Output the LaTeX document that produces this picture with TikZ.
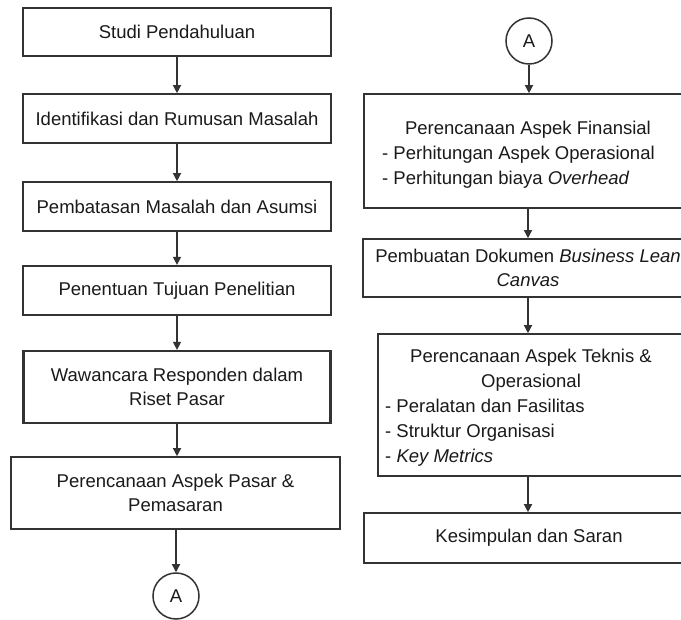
\documentclass[tikz,border=0pt]{standalone}
\usepackage{fontspec}
\setmainfont{Liberation Sans}
\usetikzlibrary{arrows.meta}
\definecolor{edge}{HTML}{333333}
\definecolor{ink}{HTML}{1A1A1A}
\begin{document}
\begin{tikzpicture}[x=1pt,y=-1pt,
  txt/.style={text=ink, inner sep=0pt, font=\fontsize{18.5}{24.5}\selectfont},
  box/.style={txt, draw=edge, line width=1.6pt, fill=white, rectangle, align=center},
  heavybox/.style={box, line width=2.2pt},
  conn/.style={txt, circle, draw=edge, line width=1.5pt, minimum size=46pt, fill=white},
  flow/.style={-{Triangle[length=8pt,width=8pt]}, line width=1.3pt, draw=edge}]
\useasboundingbox (0,0) rectangle (681,620);
\clip (0,0) rectangle (681,620);
\fill[white] (0,0) rectangle (681,620);

% left column
\node[box, minimum width=308pt, minimum height=48pt] (b1) at (177,32) {Studi Pendahuluan};
\node[box, minimum width=308pt, minimum height=49pt] (b2) at (177,118.5) {Identifikasi dan Rumusan Masalah};
\node[box, minimum width=308pt, minimum height=49pt] (b3) at (177,206.5) {Pembatasan Masalah dan Asumsi};
\node[heavybox, minimum width=308pt, minimum height=49pt] (b4) at (177,290.5) {Penentuan Tujuan Penelitian};
\node[heavybox, minimum width=307pt, minimum height=72pt] (b5) at (177,387) {Wawancara Responden dalam\\Riset Pasar};
\node[box, minimum width=329pt, minimum height=72pt] (b6) at (175.5,493) {Perencanaan Aspek Pasar \&\\Pemasaran};
\node[conn] (a1) at (176,596) {A};

\draw[flow] (b1.south) -- (b1.south |- b2.north);
\draw[flow] (b2.south) -- (b2.south |- b3.north);
\draw[flow] (b3.south) -- (b3.south |- b4.north);
\draw[flow] (b4.south) -- (b4.south |- b5.north);
\draw[flow] (b5.south) -- (b5.south |- b6.north);
\draw[flow] (a1.north |- b6.south) -- (a1.north);

% right column
\node[conn] (a2) at (529,41) {A};
\node[box, minimum width=328pt, minimum height=114pt] (fin) at (528,151) {};
\node[txt, anchor=base] (fin0) at (528,135) {Perencanaan Aspek Finansial};
\node[txt, anchor=base west] (fin1) at (382,160) {- Perhitungan Aspek Operasional};
\node[txt, anchor=base west] (fin2) at (382,185) {- Perhitungan biaya \textit{Overhead}};

\node[box, minimum width=330pt, minimum height=58pt] (bl) at (528,268) {Pembuatan Dokumen \textit{Business Lean}\\\textit{Canvas}};

\node[box, minimum width=306pt, minimum height=142pt] (tek) at (531,405) {};
\node[txt, anchor=base] (tek0) at (531,363) {Perencanaan Aspek Teknis \&};
\node[txt, anchor=base] (tek1) at (531,388) {Operasional};
\node[txt, anchor=base west] (tek2) at (385,413) {- Peralatan dan Fasilitas};
\node[txt, anchor=base west] (tek3) at (385,438) {- Struktur Organisasi};
\node[txt, anchor=base west] (tek4) at (385,463) {- \textit{Key Metrics}};

\node[box, minimum width=330pt, minimum height=50pt] (kes) at (529,538) {Kesimpulan dan Saran};

\draw[flow] (a2.south) -- (a2.south |- fin.north);
\draw[flow] (fin.south) -- (fin.south |- bl.north);
\draw[flow] (bl.south) -- (bl.south |- tek.north);
\draw[flow] (bl.south |- tek.south) -- (bl.south |- kes.north);
\end{tikzpicture}
\end{document}
